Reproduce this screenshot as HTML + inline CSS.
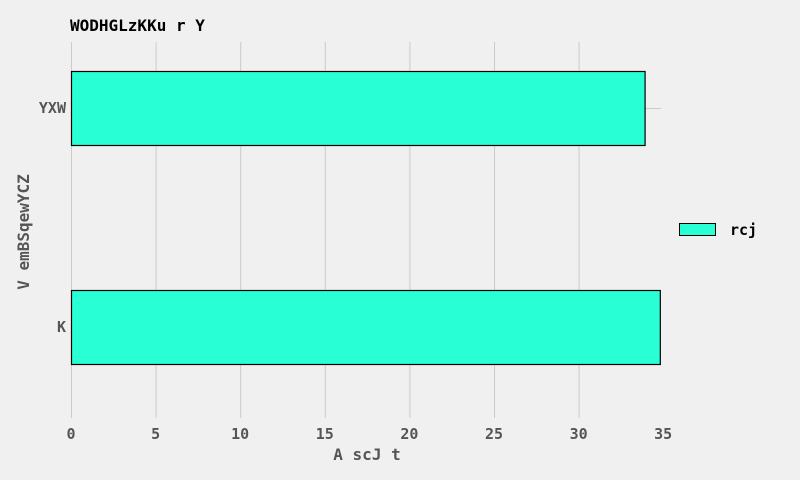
<!DOCTYPE html>
<html><head><meta charset="utf-8"><style>
html,body{margin:0;background:#f0f0f0;overflow:hidden;width:800px;height:480px}
svg{display:block}
text{font-family:"DejaVu Sans Mono","Liberation Mono",monospace;}
</style></head><body>
<svg id="c" width="800" height="480" xmlns="http://www.w3.org/2000/svg">
<rect width="800" height="480" fill="#f0f0f0"/>
<text x="70" y="31" font-size="16" font-weight="bold" fill="#000">WODHGLzKKu r Y</text>
<g id="grid"></g>
<g id="bars"></g>
<g id="ticks"></g>
<text x="367" y="460" font-size="16" font-weight="bold" fill="#555" text-anchor="middle">A scJ t</text>
<text transform="translate(29,232) rotate(-90)" font-size="16" font-weight="bold" fill="#555" text-anchor="middle">V emBSqewYCZ</text>
<g>
<rect x="679.5" y="223.5" width="36" height="12" fill="#29ffd4" stroke="#000" stroke-width="1"/>
<text x="730" y="235" font-size="15" font-weight="bold" fill="#000">rcj</text>
</g>
</svg>
<script>
const categories=["YXW","K"];
const values=[33.9,34.8];
const xTicks=[0,5,10,15,20,25,30,35];
const NS="http://www.w3.org/2000/svg";
const x0=71,unit=16.92;
const yCenters=[108,327];
function xs(v){return x0+v*unit;}
function ys(i){return yCenters[0]+i*(yCenters[1]-yCenters[0]);}
function mk(t,a,p){const e=document.createElementNS(NS,t);for(const k in a)e.setAttribute(k,a[k]);p.appendChild(e);return e;}
const grid=document.getElementById('grid'),bars=document.getElementById('bars'),ticks=document.getElementById('ticks');
xTicks.forEach(t=>{
 if(t<35){
 const l=mk('line',{x1:xs(t)+0.5,x2:xs(t)+0.5,y1:42,y2:418,stroke:'#cbcbcb','stroke-width':1},grid);
 
 
 }
 const tx=mk('text',{x:xs(t),y:439,'font-size':15,'font-weight':'bold',fill:'#555','text-anchor':'middle'},ticks);
 tx.textContent=t;
 
 
});
categories.forEach((c,i)=>{
 const y=ys(i);
 const g=mk('line',{x1:x0,x2:661,y1:y+0.5,y2:y+0.5,stroke:'#cbcbcb','stroke-width':1},grid);
 
 
 const r=mk('rect',{x:x0+0.5,y:y-37+0.5,width:xs(values[i])-x0,height:74,fill:'#29ffd4',stroke:'#000','stroke-width':1.2},bars);
 
 
 const tx=mk('text',{x:66,y:y+5,'font-size':15,'font-weight':'bold',fill:'#555','text-anchor':'end'},ticks);
 tx.textContent=c;
 
 
});
</script>
</body></html>
